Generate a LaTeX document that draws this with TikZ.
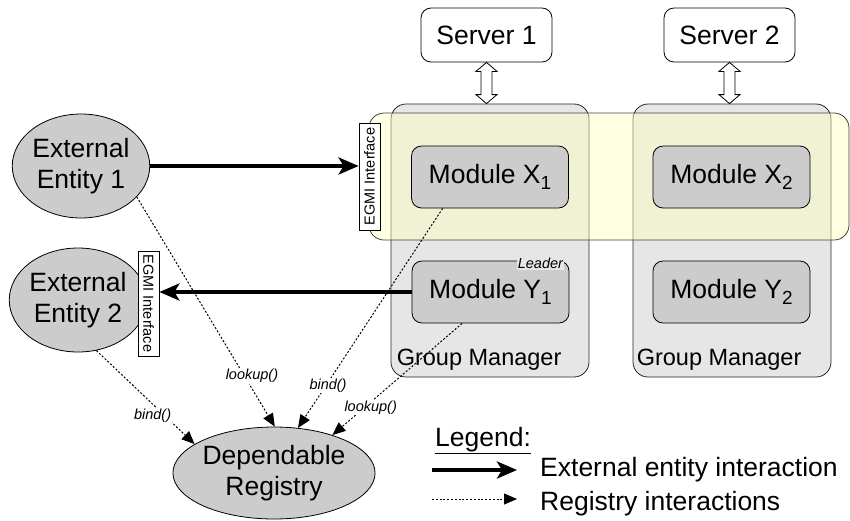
\documentclass[tikz,border=0pt]{standalone}
\usepackage{fontspec}
\setmainfont{Liberation Sans}
\usetikzlibrary{calc,arrows.meta,shapes.geometric}
\definecolor{gmfill}{HTML}{E6E6E6}
\definecolor{modfill}{HTML}{CCCCCC}
\definecolor{bandfill}{RGB}{255,255,190}
\newcommand{\bigtxt}{\fontsize{26.5}{31}\selectfont}
\newcommand{\smalltxt}{\fontsize{14.5}{16}\selectfont}
\newcommand{\subtxt}[1]{\raisebox{-6pt}{\fontsize{19}{19}\selectfont #1}}
\begin{document}
\begin{tikzpicture}[x=1pt,y=-1pt,
  gmbox/.style={draw=black!85, fill=gmfill, rounded corners=15pt, line width=0.8pt,
    minimum width=198pt, minimum height=273pt, inner sep=0pt},
  bandbox/.style={draw=black!75, fill=bandfill, fill opacity=0.45, rounded corners=15pt,
    line width=0.8pt, minimum width=480pt, minimum height=127pt, inner sep=0pt},
  modbox/.style={draw, fill=modfill, rounded corners=10pt, line width=0.8pt,
    minimum width=157pt, minimum height=62pt, inner sep=0pt, font=\bigtxt},
  serverbox/.style={draw, fill=white, rounded corners=10pt, line width=0.8pt,
    minimum width=131pt, minimum height=54pt, inner sep=0pt, font=\bigtxt},
  entity/.style={ellipse, draw, fill=modfill, line width=0.8pt, inner sep=0pt,
    font=\bigtxt, align=center},
  egmi/.style={draw, fill=white, line width=0.8pt, font=\smalltxt, inner sep=0pt,
    minimum height=21pt},
  dblarrow/.style={draw, fill=white, line width=0.8pt},
  ext/.style={line width=4.5pt, -{Stealth[length=20pt,width=17pt,inset=5pt]}},
  regline/.style={line width=1pt, dash pattern=on 2pt off 1.8pt,
    -{Triangle[length=13pt,width=11pt]}},
  lbl/.style={font=\itshape\smalltxt, fill=white, inner sep=1pt},
  gmlabel/.style={font=\fontsize{23.5}{25}\selectfont, anchor=base west, inner sep=0pt},
  legtxt/.style={font=\bigtxt, anchor=base west, inner sep=0pt}
]
\useasboundingbox (0,0) rectangle (850,520);

% servers
\node[serverbox] (s1) at (486.5,35) {Server 1};
\node[serverbox] (s2) at (729.5,35) {Server 2};

% group managers
\node[gmbox] (gm1) at (490,240.5) {};
\node[gmbox] (gm2) at (732,240.5) {};

% double arrows
\coordinate (t1) at (s1.south);
\coordinate (b1) at (s1.south |- gm1.north);
\coordinate (t2) at (s2.south);
\coordinate (b2) at (s2.south |- gm2.north);
\foreach \T/\B in {t1/b1,t2/b2}{
  \draw[dblarrow] (\T) -- ++(10.5,9) -- ++(-5,0) -- ($(\B)+(5.5,-9)$) -- ++(5,0)
    -- (\B) -- ++(-10.5,-9) -- ++(5,0) -- ($(\T)+(-5.5,9)$) -- ++(-5,0) -- cycle;
}

% EGMI band
\node[bandbox] (band) at (609,176.5) {};

% modules
\node[modbox] (x1) at (490,177) {Module X\subtxt{1}};
\node[modbox] (x2) at (731.5,177) {Module X\subtxt{2}};
\node[modbox] (y1) at (490.5,292) {Module Y\subtxt{1}};
\node[modbox] (y2) at (731.5,292) {Module Y\subtxt{2}};

% leader tag
\node[font=\itshape\smalltxt, fill=gmfill, inner sep=1pt] (leader)
  at ($(y1.north east)+(-29,3)$) {Leader};

% group manager labels
\node[gmlabel] (gml1) at ($(gm1.south west)+(6,-12)$) {Group Manager};
\node[gmlabel] (gml2) at ($(gm2.south west)+(4,-12)$) {Group Manager};

% external entities
\node[entity, minimum width=136pt, minimum height=104pt] (ee1) at (81,166)
  {External\\Entity 1};
\node[entity, minimum width=134pt, minimum height=104pt] (ee2) at (78,300)
  {External\\Entity 2};

% EGMI interfaces
\node[egmi, rotate=90, minimum width=107pt] (egmi1) at (369.5,176.5) {EGMI Interface};
\node[egmi, rotate=-90, minimum width=105pt] (egmi2) at (148.5,303.5) {EGMI Interface};

% registry
\node[entity, minimum width=164pt, minimum height=92pt] (reg) at (274,473)
  {Dependable\\Registry};

% external entity interactions
\draw[ext] (ee1.east) -- (ee1.east -| egmi1.north);
\draw[ext] (y1.west) -- (y1.west -| egmi2.north);

% registry interactions
\coordinate (x1s) at ($(x1.south west)!0.2!(x1.south east)$);
\coordinate (y1s) at ($(y1.south west)!0.32!(y1.south east)$);
\draw[regline] (ee1.-29) -- node[lbl, pos=0.78, xshift=7.5pt] {lookup()} (reg.89);
\draw[regline] (ee2.-70) -- node[lbl, pos=0.694, xshift=-12pt] {bind()} (reg.160);
\draw[regline] (x1s) -- node[lbl, pos=0.806, xshift=2pt] {bind()} (reg.62);
\draw[regline] (y1s) -- node[lbl, pos=0.755, xshift=6.5pt] {lookup()} (reg.33);

% legend
\node[legtxt] (legend) at (435,446) {\underline{Legend:}};
\coordinate (la1) at (432,470);
\coordinate (lb1) at (517,470);
\coordinate (la2) at (432,499);
\coordinate (lb2) at (517,499);
\draw[ext] (la1) -- (lb1);
\draw[regline] (la2) -- (lb2);
\node[legtxt] (leg1) at (540,476) {External entity interaction};
\node[legtxt] (leg2) at (540,510) {Registry interactions};
\end{tikzpicture}
\end{document}
